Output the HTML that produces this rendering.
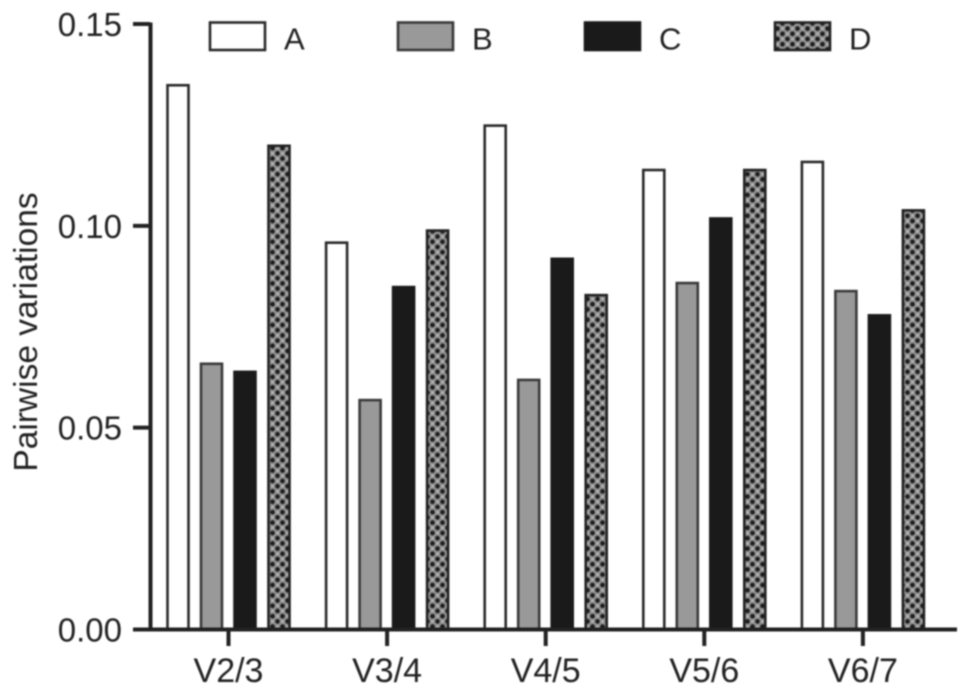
<!DOCTYPE html>
<html lang="en">
<head>
<meta charset="utf-8">
<title>Pairwise variations</title>
<style>
html,body{margin:0;padding:0;background:#fff;width:969px;height:697px;overflow:hidden}
svg{display:block;filter:blur(0.7px)}
text{font-family:"Liberation Sans",sans-serif;fill:#222}
</style>
</head>
<body>
<svg id="chart" xmlns="http://www.w3.org/2000/svg" width="969" height="697" viewBox="0 0 969 697">
<defs>
<pattern id="dots" width="10" height="10.4" patternUnits="userSpaceOnUse">
<rect width="10" height="10.4" fill="#8c8c8c"/>
<circle cx="2.5" cy="2.6" r="2.3" fill="#1c1c1c"/>
<circle cx="7.5" cy="7.8" r="2.3" fill="#1c1c1c"/>
<circle cx="7.5" cy="2.6" r="1.5" fill="#b4b4b4"/>
<circle cx="2.5" cy="7.8" r="1.5" fill="#b4b4b4"/>
</pattern>
</defs>
<g id="bars"></g>
<g id="axes"></g>
<g id="legend"></g>
<text transform="translate(37,332) rotate(-90)" text-anchor="middle" font-size="33.5">Pairwise variations</text>
</svg>
<script>
const categories = ['V2/3', 'V3/4', 'V4/5', 'V5/6', 'V6/7'];
const seriesNames = ['A', 'B', 'C', 'D'];
const seriesA = [0.135, 0.096, 0.125, 0.114, 0.116];
const seriesB = [0.066, 0.057, 0.062, 0.086, 0.084];
const seriesC = [0.064, 0.085, 0.092, 0.102, 0.078];
const seriesD = [0.120, 0.099, 0.083, 0.114, 0.104];
const yTickValues = [0, 0.05, 0.10, 0.15];
const yTickLabels = ['0.00', '0.05', '0.10', '0.15'];

const NS = 'http://www.w3.org/2000/svg';
const allSeries = [seriesA, seriesB, seriesC, seriesD];
const fills = ['#ffffff', '#999999', '#1a1a1a', 'url(#dots)'];
const strokes = ['#2a2a2a', '#3a3a3a', '#1a1a1a', '#222222'];
const offsets = [-50.5, -17, 16.5, 50.5];
const barWidth = 21;
const barTopInset = 0.7;
const yAxis = v => 629.5 - (v / 0.15) * 605.5;
const xAxis = i => 228.5 + i * 158.6;

function make(tag, attrs, parent, txt) {
  const el = document.createElementNS(NS, tag);
  for (const k in attrs) el.setAttribute(k, attrs[k]);
  if (txt !== undefined) el.textContent = txt;
  parent.appendChild(el);
  return el;
}

const barsG = document.getElementById('bars');
allSeries.forEach((vals, s) => {
  vals.forEach((v, i) => {
    const y = yAxis(v) + barTopInset;
    const bar = make('rect', {
      x: xAxis(i) + offsets[s] - barWidth / 2,
      y: y,
      width: barWidth,
      height: yAxis(0) - y,
      fill: fills[s],
      stroke: strokes[s],
      'stroke-width': 2.6
    }, barsG);
    
    
  });
});

const axesG = document.getElementById('axes');
const yLine = make('line', {x1: 150.5, x2: 150.5, y1: 22.5, y2: 631.5, stroke: '#222', 'stroke-width': 4}, axesG);


const xLine = make('line', {x1: 133, x2: 957, y1: yAxis(0), y2: yAxis(0), stroke: '#222', 'stroke-width': 4}, axesG);



yTickValues.forEach((v, i) => {
  const tick = make('line', {x1: 133, x2: 150, y1: yAxis(v), y2: yAxis(v), stroke: '#222', 'stroke-width': 4}, axesG);
  
  
  const label = make('text', {x: 122, y: yAxis(v) + 12, 'text-anchor': 'end', 'font-size': 33}, axesG, yTickLabels[i]);
  
  
});

categories.forEach((c, i) => {
  const tick = make('line', {x1: xAxis(i), x2: xAxis(i), y1: yAxis(0), y2: 646, stroke: '#222', 'stroke-width': 4}, axesG);
  
  
  const label = make('text', {x: xAxis(i), y: 682, 'text-anchor': 'middle', 'font-size': 34}, axesG, c);
  
  
});

const legendG = document.getElementById('legend');
const legendX = [210, 398, 585, 775];
seriesNames.forEach((n, s) => {
  const swatch = make('rect', {x: legendX[s], y: 22.5, width: 55, height: 27.5, fill: fills[s], stroke: strokes[s], 'stroke-width': 2.6}, legendG);
  
  
  const label = make('text', {x: legendX[s] + 74, y: 49.5, 'font-size': 31}, legendG, n);
  
  
});
</script>
</body>
</html>
